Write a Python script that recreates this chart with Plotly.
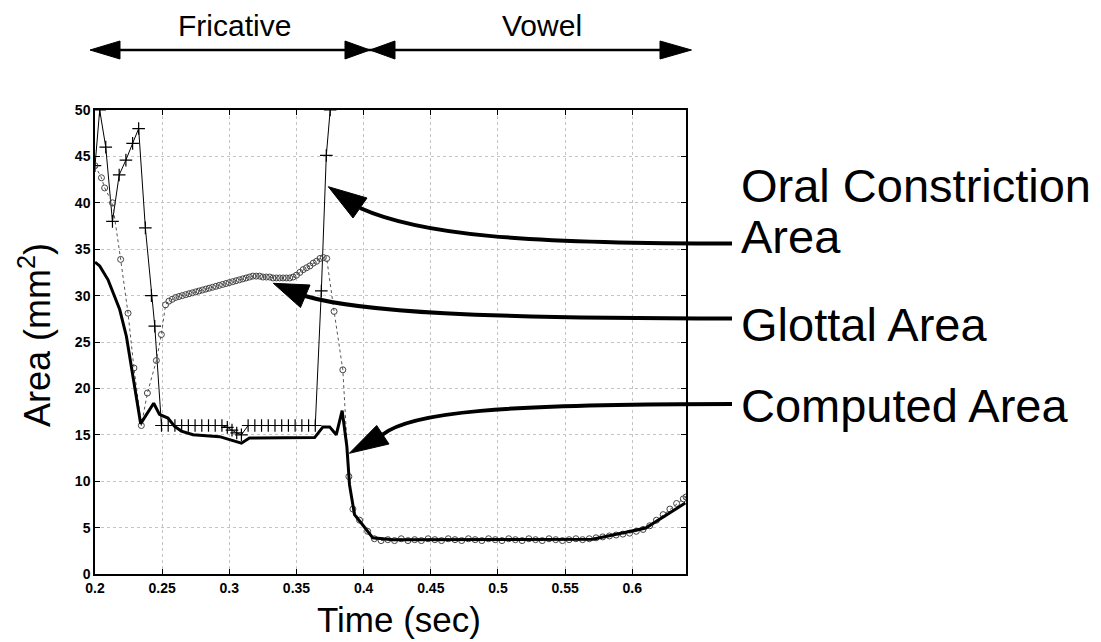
import plotly.graph_objects as go

# ---------------- data ----------------
oral_t = [0.200, 0.2035, 0.208, 0.213, 0.218, 0.223, 0.228, 0.2325, 0.2375, 0.242, 0.2445,
          0.2495, 0.2545, 0.2595, 0.2645, 0.2695, 0.2745, 0.2795, 0.2845, 0.2895, 0.2945,
          0.2985, 0.302, 0.3055, 0.309,
          0.314, 0.319, 0.324, 0.329, 0.334, 0.339, 0.344, 0.349, 0.354, 0.359, 0.364,
          0.3685, 0.3722, 0.3751]
oral_a = [44.0, 50.0, 46.0, 38.0, 43.0, 44.6, 46.4, 48.0, 37.3, 30.0, 26.7,
          16.0, 16.0, 16.0, 16.0, 16.0, 16.0, 16.0, 16.0, 16.0, 16.0,
          15.8, 15.5, 15.2, 15.0,
          16.0, 16.0, 16.0, 16.0, 16.0, 16.0, 16.0, 16.0, 16.0, 16.0, 16.0,
          30.5, 45.1, 50.0]

glottal_t = [0.200, 0.2048, 0.2072, 0.213, 0.2191, 0.2246, 0.229, 0.2345, 0.239, 0.2457, 0.2494,
             0.2525, 0.2550, 0.2575, 0.2600, 0.2625, 0.2650, 0.2675, 0.2700, 0.2725, 0.2750,
             0.2775, 0.2800, 0.2825, 0.2850, 0.2875, 0.2900, 0.2925, 0.2950, 0.2975, 0.3000,
             0.3025, 0.3050, 0.3075, 0.3100, 0.3125, 0.3150, 0.3175, 0.3200, 0.3225, 0.3250,
             0.3275, 0.3300, 0.3325, 0.3350, 0.3375, 0.3400, 0.3425, 0.3450, 0.3475, 0.3500,
             0.3525, 0.3550, 0.3575, 0.3600, 0.3625, 0.3650, 0.3675, 0.3700, 0.3725,
             0.378, 0.3845, 0.389, 0.392, 0.397, 0.403, 0.408,
             0.413, 0.418, 0.423, 0.428, 0.433, 0.438, 0.443, 0.448, 0.453, 0.458, 0.463,
             0.468, 0.473, 0.478, 0.483, 0.488, 0.493, 0.498, 0.503, 0.508, 0.513, 0.518,
             0.523, 0.528, 0.533, 0.538, 0.543, 0.548, 0.553, 0.558, 0.563, 0.568, 0.573,
             0.578, 0.583, 0.588, 0.593, 0.598, 0.603, 0.608, 0.613, 0.618, 0.623, 0.628,
             0.633, 0.638, 0.640]
glottal_a = [44.0, 42.7, 41.6, 40.0, 33.9, 28.1, 22.2, 16.0, 19.5, 23.0, 25.8,
             29.0, 29.4, 29.6, 29.8, 29.9, 30.0, 30.1, 30.2, 30.3, 30.4,
             30.5, 30.6, 30.7, 30.8, 30.9, 31.0, 31.1, 31.2, 31.3, 31.4,
             31.5, 31.6, 31.7, 31.8, 31.9, 32.0, 32.1, 32.1, 32.1, 32.0,
             32.0, 32.0, 31.9, 31.9, 31.9, 31.9, 31.9, 31.9, 32.0, 32.2,
             32.5, 32.8, 33.0, 33.2, 33.5, 33.7, 34.0, 34.1, 34.0,
             28.3, 22.0, 10.5, 7.0, 5.8, 4.6, 3.8,
             3.6, 3.7, 3.6, 3.8, 3.6, 3.7, 3.6, 3.8, 3.7, 3.6, 3.8,
             3.7, 3.6, 3.8, 3.7, 3.6, 3.8, 3.7, 3.6, 3.8, 3.7, 3.6,
             3.8, 3.7, 3.6, 3.8, 3.7, 3.6, 3.7, 3.8, 3.7, 3.8, 3.9,
             4.0, 4.1, 4.2, 4.3, 4.4, 4.6, 4.8, 5.2, 5.8, 6.4, 7.0,
             7.6, 8.1, 8.3]

computed_t = [0.200, 0.2035, 0.2097, 0.2184, 0.2234, 0.2271, 0.234, 0.2437, 0.248, 0.2543,
              0.2593, 0.2643, 0.273, 0.2828, 0.2928, 0.309, 0.315, 0.3635, 0.3697, 0.3747,
              0.3796, 0.384, 0.3875, 0.3895, 0.3932, 0.3982, 0.4068, 0.4217, 0.5705, 0.5855,
              0.610, 0.6395]
computed_a = [33.6, 33.2, 31.7, 28.5, 25.6, 22.2, 16.2, 18.4, 17.2, 16.8,
              15.9, 15.4, 15.0, 14.9, 14.8, 14.1, 14.65, 14.7, 15.85, 15.85,
              15.0, 17.6, 13.75, 9.6, 6.4, 5.5, 3.9, 3.7, 3.75, 4.2,
              4.95, 7.65]

x_ticks = [0.2, 0.25, 0.3, 0.35, 0.4, 0.45, 0.5, 0.55, 0.6]
x_tick_labels = ["0.2", "0.25", "0.3", "0.35", "0.4", "0.45", "0.5", "0.55", "0.6"]
y_ticks = [0, 5, 10, 15, 20, 25, 30, 35, 40, 45, 50]
y_tick_labels = [str(v) for v in y_ticks]

# ---------------- layout geometry (pixels) ----------------
W, H = 1101, 642
L, R, T, B = 95, 686, 110, 574
PW, PH = R - L, B - T


def px(x, y):
    return ((x - L) / PW, (B - y) / PH)


def path(points, close=False, curve=False):
    pts = [px(*p) for p in points]
    if curve:
        s = "M {:.5f},{:.5f} C ".format(*pts[0])
        s += " ".join("{:.5f},{:.5f}".format(*p) for p in pts[1:])
        return s
    s = "M " + " L ".join("{:.5f},{:.5f}".format(*p) for p in pts)
    if close:
        s += " Z"
    return s


FONT = "Liberation Sans, Arial, Helvetica, sans-serif"

fig = go.Figure()

fig.add_trace(go.Scatter(
    x=oral_t, y=oral_a, mode="lines+markers",
    line=dict(color="black", width=1),
    marker=dict(symbol="cross-thin", size=9, line=dict(color="black", width=1.2)),
    showlegend=False, name="Oral Constriction Area"))

fig.add_trace(go.Scatter(
    x=glottal_t, y=glottal_a, mode="lines+markers",
    line=dict(color="#555555", width=1, dash="dot"),
    marker=dict(symbol="circle-open", size=6, color="#444444", line=dict(width=1)),
    showlegend=False, name="Glottal Area"))

fig.add_trace(go.Scatter(
    x=computed_t, y=computed_a, mode="lines",
    line=dict(color="black", width=3),
    showlegend=False, name="Computed Area"))

shapes = []
# curved pointer arrows
arrow_lines = [
    [(360, 208), (420, 235), (520, 243.5), (732, 243.5)],
    [(305, 296), (360, 312), (480, 318.5), (732, 318.5)],
    [(382, 435), (410, 412), (500, 404), (732, 404)],
]
for pts in arrow_lines:
    shapes.append(dict(type="path", xref="paper", yref="paper", path=path(pts, curve=True),
                       line=dict(color="black", width=4)))
heads = [
    [(328.3, 186.7), (367, 198), (353, 218)],
    [(273.3, 283.3), (310, 285), (300.5, 307.5)],
    [(349.3, 453.3), (376.7, 425.5), (389, 444)],
]
for pts in heads:
    shapes.append(dict(type="path", xref="paper", yref="paper", path=path(pts, close=True),
                       fillcolor="black", line=dict(color="black", width=1)))

# top phase arrows
shapes.append(dict(type="path", xref="paper", yref="paper",
                   path=path([(110, 50), (680, 50)]), line=dict(color="black", width=2.5)))
top_heads = [
    [(90, 50), (120, 41), (120, 59)],
    [(370, 50), (345, 41), (345, 59)],
    [(370, 50), (395, 41), (395, 59)],
    [(691.5, 50), (660, 41), (660, 59)],
]
for pts in top_heads:
    shapes.append(dict(type="path", xref="paper", yref="paper", path=path(pts, close=True),
                       fillcolor="black", line=dict(color="black", width=1)))

annotations = []


def ann(text, x, y, size, xanchor="center", yanchor="middle", angle=0):
    ax, ay = px(x, y)
    annotations.append(dict(text=text, x=ax, y=ay, xref="paper", yref="paper",
                            xanchor=xanchor, yanchor=yanchor, showarrow=False,
                            textangle=angle, font=dict(family=FONT, size=size, color="black")))


ann("Fricative", 234, 25, 30)
ann("Vowel", 542, 25, 30)
ann("Oral Constriction", 739, 185, 47, xanchor="left")
ann("Area", 739, 237, 47, xanchor="left")
ann("Glottal Area", 739, 324.5, 47, xanchor="left")
ann("Computed Area", 739, 405.5, 47, xanchor="left")
ann("Time (sec)", 399, 619, 35)
ann("Area (mm<sup>2</sup>)", 35, 335, 36, angle=-90)

axis_common = dict(showline=True, linecolor="black", linewidth=1.5, mirror="ticks",
                   ticks="inside", ticklen=5, tickcolor="black", tickwidth=1.2,
                   showgrid=True, gridcolor="#c4c4c4", griddash="dot", gridwidth=1,
                   zeroline=False,
                   tickfont=dict(family=FONT, size=14, color="black", weight="bold"))

fig.update_layout(
    width=W, height=H,
    margin=dict(l=L, r=W - R, t=T, b=H - B, pad=0),
    paper_bgcolor="white", plot_bgcolor="white",
    xaxis=dict(range=[0.2, 0.64], tickvals=x_ticks, ticktext=x_tick_labels, **axis_common),
    yaxis=dict(range=[0, 50], tickvals=y_ticks, ticktext=y_tick_labels, **axis_common),
    shapes=shapes, annotations=annotations, showlegend=False,
)

fig.write_html("out.html")
